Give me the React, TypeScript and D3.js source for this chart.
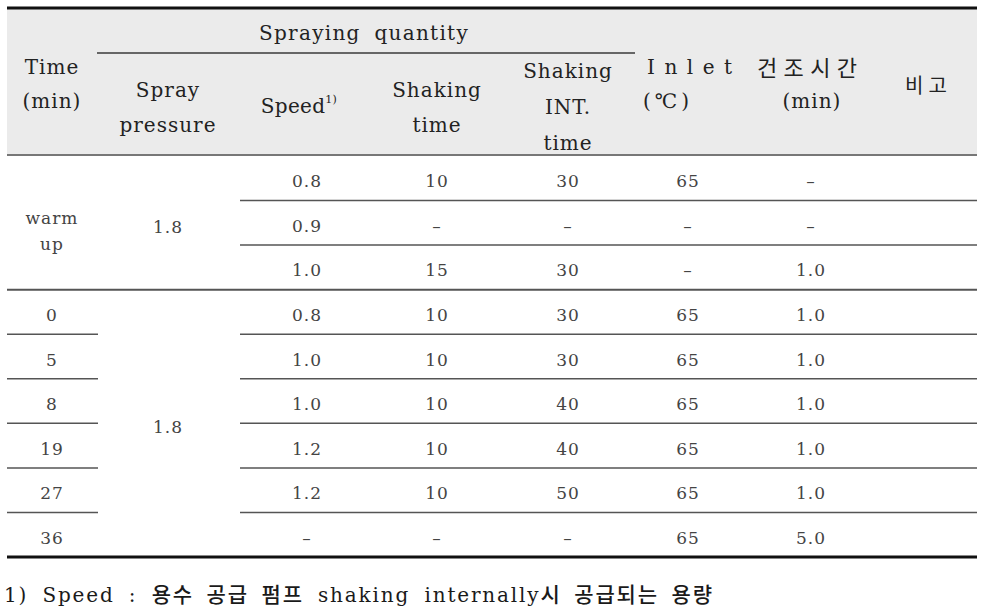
import React from "react";
import * as d3 from "d3";

const timeLabels = ["warm up", "0", "5", "8", "19", "27", "36"];
const timeRowSpan = [3, 1, 1, 1, 1, 1, 1];
const sprayPressure = ["1.8", "1.8"];
const sprayRowSpan = [3, 6];
const speed = ["0.8", "0.9", "1.0", "0.8", "1.0", "1.0", "1.2", "1.2", "–"];
const shakingTime = ["10", "–", "15", "10", "10", "10", "10", "10", "–"];
const shakingInt = ["30", "–", "30", "30", "30", "40", "40", "50", "–"];
const inlet = ["65", "–", "–", "65", "65", "65", "65", "65", "65"];
const dryTime = ["–", "–", "1.0", "1.0", "1.0", "1.0", "1.0", "1.0", "5.0"];

const W = 985, H = 615;
const L = 7, R = 977;
const TOP = 8, HEAD_BOT = 155, BOT = 557;
const colCenters = [52, 168, 307, 437, 568, 688, 811, 927];

const serif = "DejaVu Serif";
const kr = "Noto Sans CJK KR";

export default function App() {
  const nRows = speed.length;
  const y = d3.scaleLinear().domain([0, nRows]).range([HEAD_BOT + 1, BOT]);
  const rowMid = (i: number, span = 1) => (y(i) + y(i + span)) / 2;
  const dataCols = [speed, shakingTime, shakingInt, inlet, dryTime];
  const textCol = "#444";

  const timeStarts: number[] = [];
  let acc = 0;
  timeRowSpan.forEach((s) => { timeStarts.push(acc); acc += s; });
  const sprayStarts: number[] = [];
  acc = 0;
  sprayRowSpan.forEach((s) => { sprayStarts.push(acc); acc += s; });

  const sf = { fontFamily: serif, letterSpacing: "1px" };
  const kf = { fontFamily: kr };
  const base = 9;

  return (
    <svg width={W} height={H} style={{ position: "absolute", left: 0, top: 0, background: "#fff" }}>
      <rect x={L} y={TOP} width={R - L} height={HEAD_BOT - TOP} fill="#ebebeb" />
      <g style={sf} fill="#222" fontSize={20} textAnchor="middle">
        <text x={364} y={40} style={{ ...sf, letterSpacing: "1.3px", wordSpacing: "6px" }}>Spraying quantity</text>
        <text x={colCenters[0]} y={74}>Time</text>
        <text x={colCenters[0]} y={108}>(min)</text>
        <text x={colCenters[1]} y={97}>Spray</text>
        <text x={colCenters[1]} y={132}>pressure</text>
        <text x={colCenters[2] - 8} y={113} style={{ ...sf, letterSpacing: "0.3px" }}>Speed<tspan fontSize={11} dy={-10}>1)</tspan></text>
        <text x={colCenters[3]} y={97}>Shaking</text>
        <text x={colCenters[3]} y={132}>time</text>
        <text x={colCenters[4]} y={78}>Shaking</text>
        <text x={colCenters[4]} y={114}>INT.</text>
        <text x={colCenters[4]} y={150}>time</text>
        <text x={647} y={74} textAnchor="start" textLength={86} lengthAdjust="spacing">I n l e t</text>
        <text x={643} y={108} textAnchor="start" textLength={47} lengthAdjust="spacing">(℃)</text>
        <text x={757} y={76} textAnchor="start" style={{ ...kf, letterSpacing: "0px" }} fontSize={22} textLength={100} lengthAdjust="spacing">건조시간</text>
        <text x={812} y={108}>(min)</text>
        <text x={905} y={93} textAnchor="start" style={{ ...kf, letterSpacing: "0px" }} fontSize={20} textLength={42} lengthAdjust="spacing">비고</text>
      </g>
      <line x1={97} x2={635} y1={53} y2={53} stroke="#666" strokeWidth={2} />

      <g style={sf} fill={textCol} fontSize={17} textAnchor="middle">
        {timeLabels.map((t, i) => {
          const s = timeStarts[i], span = timeRowSpan[i];
          if (t === "warm up") {
            const m = rowMid(s, span);
            return (
              <g key={"t" + i}>
                <text x={colCenters[0]} y={m + 1}>warm</text>
                <text x={colCenters[0]} y={m + 27}>up</text>
              </g>
            );
          }
          return <text key={"t" + i} x={colCenters[0]} y={rowMid(s, span) + base}>{t}</text>;
        })}
        {sprayPressure.map((v, i) => (
          <text key={"p" + i} x={colCenters[1]} y={rowMid(sprayStarts[i], sprayRowSpan[i]) + base + 1}>{v}</text>
        ))}
        {dataCols.map((col, c) =>
          col.map((v, r) => (
            <text key={c + "-" + r} x={colCenters[c + 2]} y={rowMid(r) + base}>{v}</text>
          ))
        )}
      </g>

      {d3.range(1, nRows).filter((r) => r !== 3).map((r) => (
        <line key={"rs" + r} x1={240} x2={R} y1={y(r)} y2={y(r)} stroke="#555" strokeWidth={1.5} />
      ))}
      {timeStarts.slice(2).map((r) => (
        <line key={"ts" + r} x1={L} x2={98} y1={y(r)} y2={y(r)} stroke="#555" strokeWidth={1.5} />
      ))}
      <line x1={L} x2={R} y1={y(3)} y2={y(3)} stroke="#555" strokeWidth={2} />
      <line x1={L} x2={R} y1={HEAD_BOT} y2={HEAD_BOT} stroke="#777" strokeWidth={2} />
      <line x1={L} x2={R} y1={TOP} y2={TOP} stroke="#111" strokeWidth={3} />
      <line x1={L} x2={R} y1={BOT} y2={BOT} stroke="#111" strokeWidth={3} />

      <text x={4} y={602} style={{ fontFamily: serif, wordSpacing: "6px" }} fontSize={20} fill="#1a1a1a" textLength={708} lengthAdjust="spacing">
        1) Speed : <tspan style={kf} fontWeight={500} fontSize={21}>용수 공급 펌프</tspan> shaking internally<tspan style={kf} fontWeight={500} fontSize={21}>시 공급되는 용량</tspan>
      </text>
    </svg>
  );
}
